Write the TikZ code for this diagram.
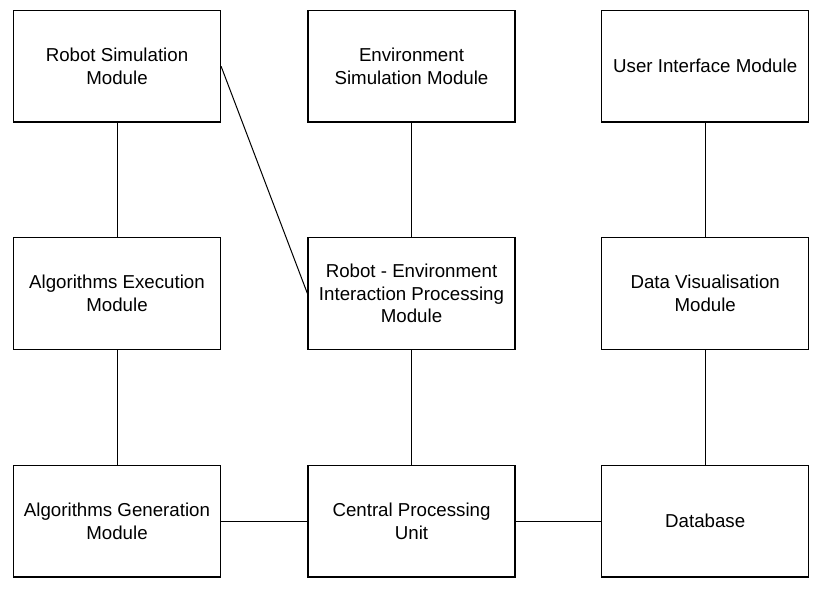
\documentclass[tikz,border=0pt]{standalone}
\usepackage{fontspec}
\setmainfont{Liberation Sans}
\begin{document}
\begin{tikzpicture}[x=1pt,y=-1pt,
  box/.style={draw, line width=1.2pt, minimum width=207pt, minimum height=111.5pt, align=center,
    inner sep=0pt, font=\fontsize{18.7}{22.5}\selectfont},
  link/.style={line width=1pt}]
\useasboundingbox[fill=white] (0,0) rectangle (823,591);
\node[box] (rsm) at (117,66.3) {Robot Simulation\\Module};
\node[box] (esm) at (411.5,66.3) {Environment\\Simulation Module};
\node[box] (uim) at (705.2,66.3) {User Interface Module};
\node[box] (aem) at (117,293.5) {Algorithms Execution\\Module};
\node[box] (rei) at (411.5,293.5) {Robot - Environment\\Interaction Processing\\Module};
\node[box] (dvm) at (705.2,293.5) {Data Visualisation\\Module};
\node[box] (agm) at (117,521.2) {Algorithms Generation\\Module};
\node[box] (cpu) at (411.5,521.2) {Central Processing\\Unit};
\node[box] (db) at (705.2,521.2) {Database};
\draw[link] (rsm) -- (aem);
\draw[link] (aem) -- (agm);
\draw[link] (esm) -- (rei);
\draw[link] (rei) -- (cpu);
\draw[link] (uim) -- (dvm);
\draw[link] (dvm) -- (db);
\draw[link] (agm) -- (cpu);
\draw[link] (cpu) -- (db);
\draw[link] (rsm.east) -- (rei.west);
\end{tikzpicture}
\end{document}
